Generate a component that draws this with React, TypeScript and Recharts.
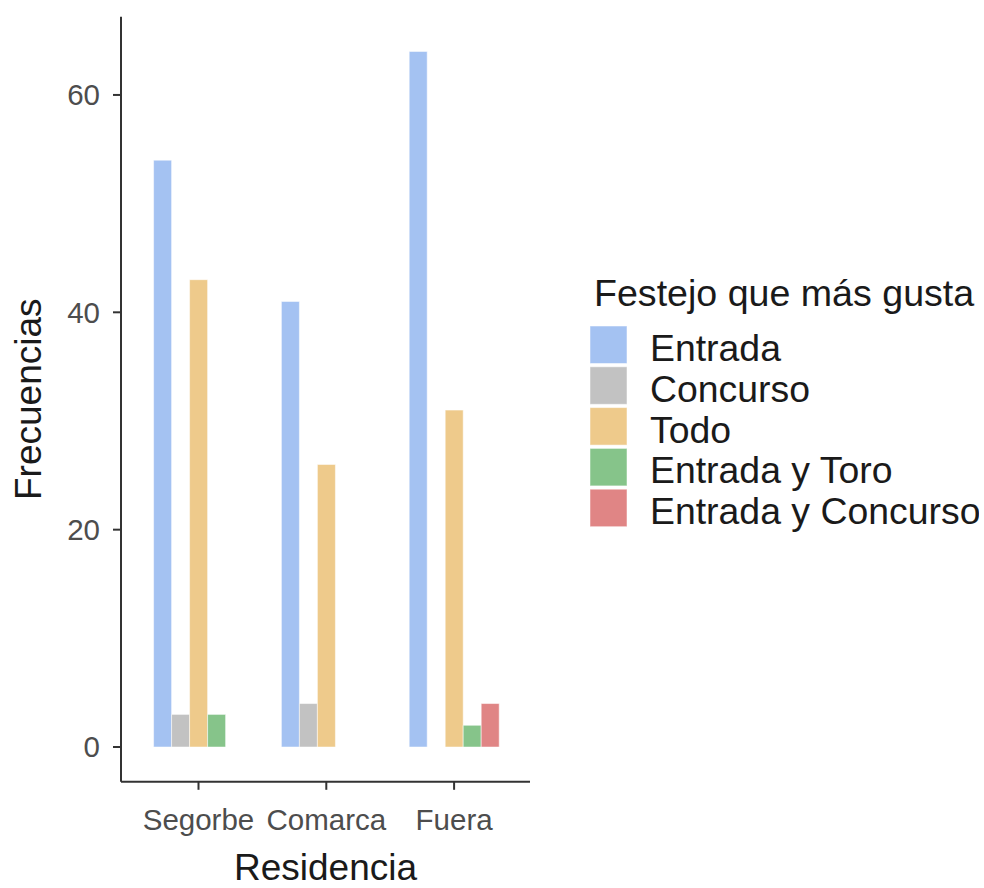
import { BarChart, Bar, XAxis, YAxis, Label } from 'recharts'

const FONT = '"Liberation Sans", Arial, sans-serif'

const residencias = ['Segorbe', 'Comarca', 'Fuera']
const festejos = ['Entrada', 'Concurso', 'Todo', 'Entrada y Toro', 'Entrada y Concurso']
const colores = ['#A4C2F2', '#C2C2C2', '#EECA8B', '#86C48A', '#E08585']

// frecuencias por residencia, en el orden de festejos
const entrada = [54, 41, 64]
const concurso = [3, 4, 0]
const todo = [43, 26, 31]
const entradaToro = [3, 0, 2]
const entradaConcurso = [0, 0, 4]

const yTicks = [0, 20, 40, 60]

const series = [entrada, concurso, todo, entradaToro, entradaConcurso]

const data = residencias.map((r, i) => {
  const row: Record<string, string | number> = { residencia: r }
  festejos.forEach((f, j) => {
    row[f] = series[j][i]
  })
  return row
})

// eslint-disable-next-line @typescript-eslint/no-explicit-any
const YTitle = (props: any) => {
  const { viewBox } = props
  const x = viewBox.x + 41
  const y = viewBox.y + viewBox.height / 2
  return (
    <text
      x={x}
      y={y}
      transform={`rotate(-90, ${x}, ${y})`}
      textAnchor="middle"
      fill="#1a1a1a"
      fontSize={37}
      fontFamily={FONT}
    >
      Frecuencias
    </text>
  )
}

function FestejoLegend() {
  const left = 589
  const top = 326
  const row = 40.8
  return (
    <svg
      width={400}
      height={300}
      style={{ position: 'absolute', left: left - 10, top: top - 60 }}
    >
      <g transform="translate(10, 60)">
        <text x={5} y={-20} fontSize={37.6} fontFamily={FONT} fill="#1a1a1a">
          Festejo que más gusta
        </text>
        {festejos.map((f, i) => (
          <g key={f} transform={`translate(0, ${i * row})`}>
            <rect x={1} y={0} width={37} height={37.5} fill={colores[i]} stroke="#fff" strokeOpacity={0.5} />
            <text x={61} y={35} fontSize={37.4} fontFamily={FONT} fill="#1a1a1a">
              {f}
            </text>
          </g>
        ))}
      </g>
    </svg>
  )
}

export default function App() {
  return (
    <div style={{ position: 'absolute', left: 0, top: 0, width: 984, height: 888, background: '#fff' }}>
      <BarChart
        width={984}
        height={888}
        data={data}
        margin={{ top: 16.7, right: 454, bottom: 0, left: 0 }}
        barGap={0}
        barSize={18}
      >
        <XAxis
          dataKey="residencia"
          type="category"
          height={106.2}
          padding={{ left: 13.6, right: 12 }}
          axisLine={{ stroke: '#333', strokeWidth: 2 }}
          tickLine={{ stroke: '#333', strokeWidth: 2 }}
          tickSize={8}
          tickMargin={19}
          tick={{ fill: '#4D4D4D', fontSize: 29.5, fontFamily: FONT }}
        >
          <Label
            value="Residencia"
            position="insideBottom"
            offset={8.5}
            fill="#1a1a1a"
            fontSize={37}
            fontFamily={FONT}
          />
        </XAxis>
        <YAxis
          type="number"
          width={121}
          domain={[-3.2, 67.2]}
          ticks={yTicks}
          allowDataOverflow
          axisLine={{ stroke: '#333', strokeWidth: 2 }}
          tickLine={{ stroke: '#333', strokeWidth: 2 }}
          tickSize={8}
          tickMargin={13}
          tick={{ fill: '#4D4D4D', fontSize: 29.5, fontFamily: FONT }}
        >
          <Label content={YTitle} />
        </YAxis>
        {festejos.map((f, i) => (
          <Bar
            key={f}
            dataKey={f}
            fill={colores[i]}
            stroke="#fff"
            strokeOpacity={0.5}
            strokeWidth={1}
            isAnimationActive={false}
          />
        ))}
      </BarChart>
      <FestejoLegend />
    </div>
  )
}
